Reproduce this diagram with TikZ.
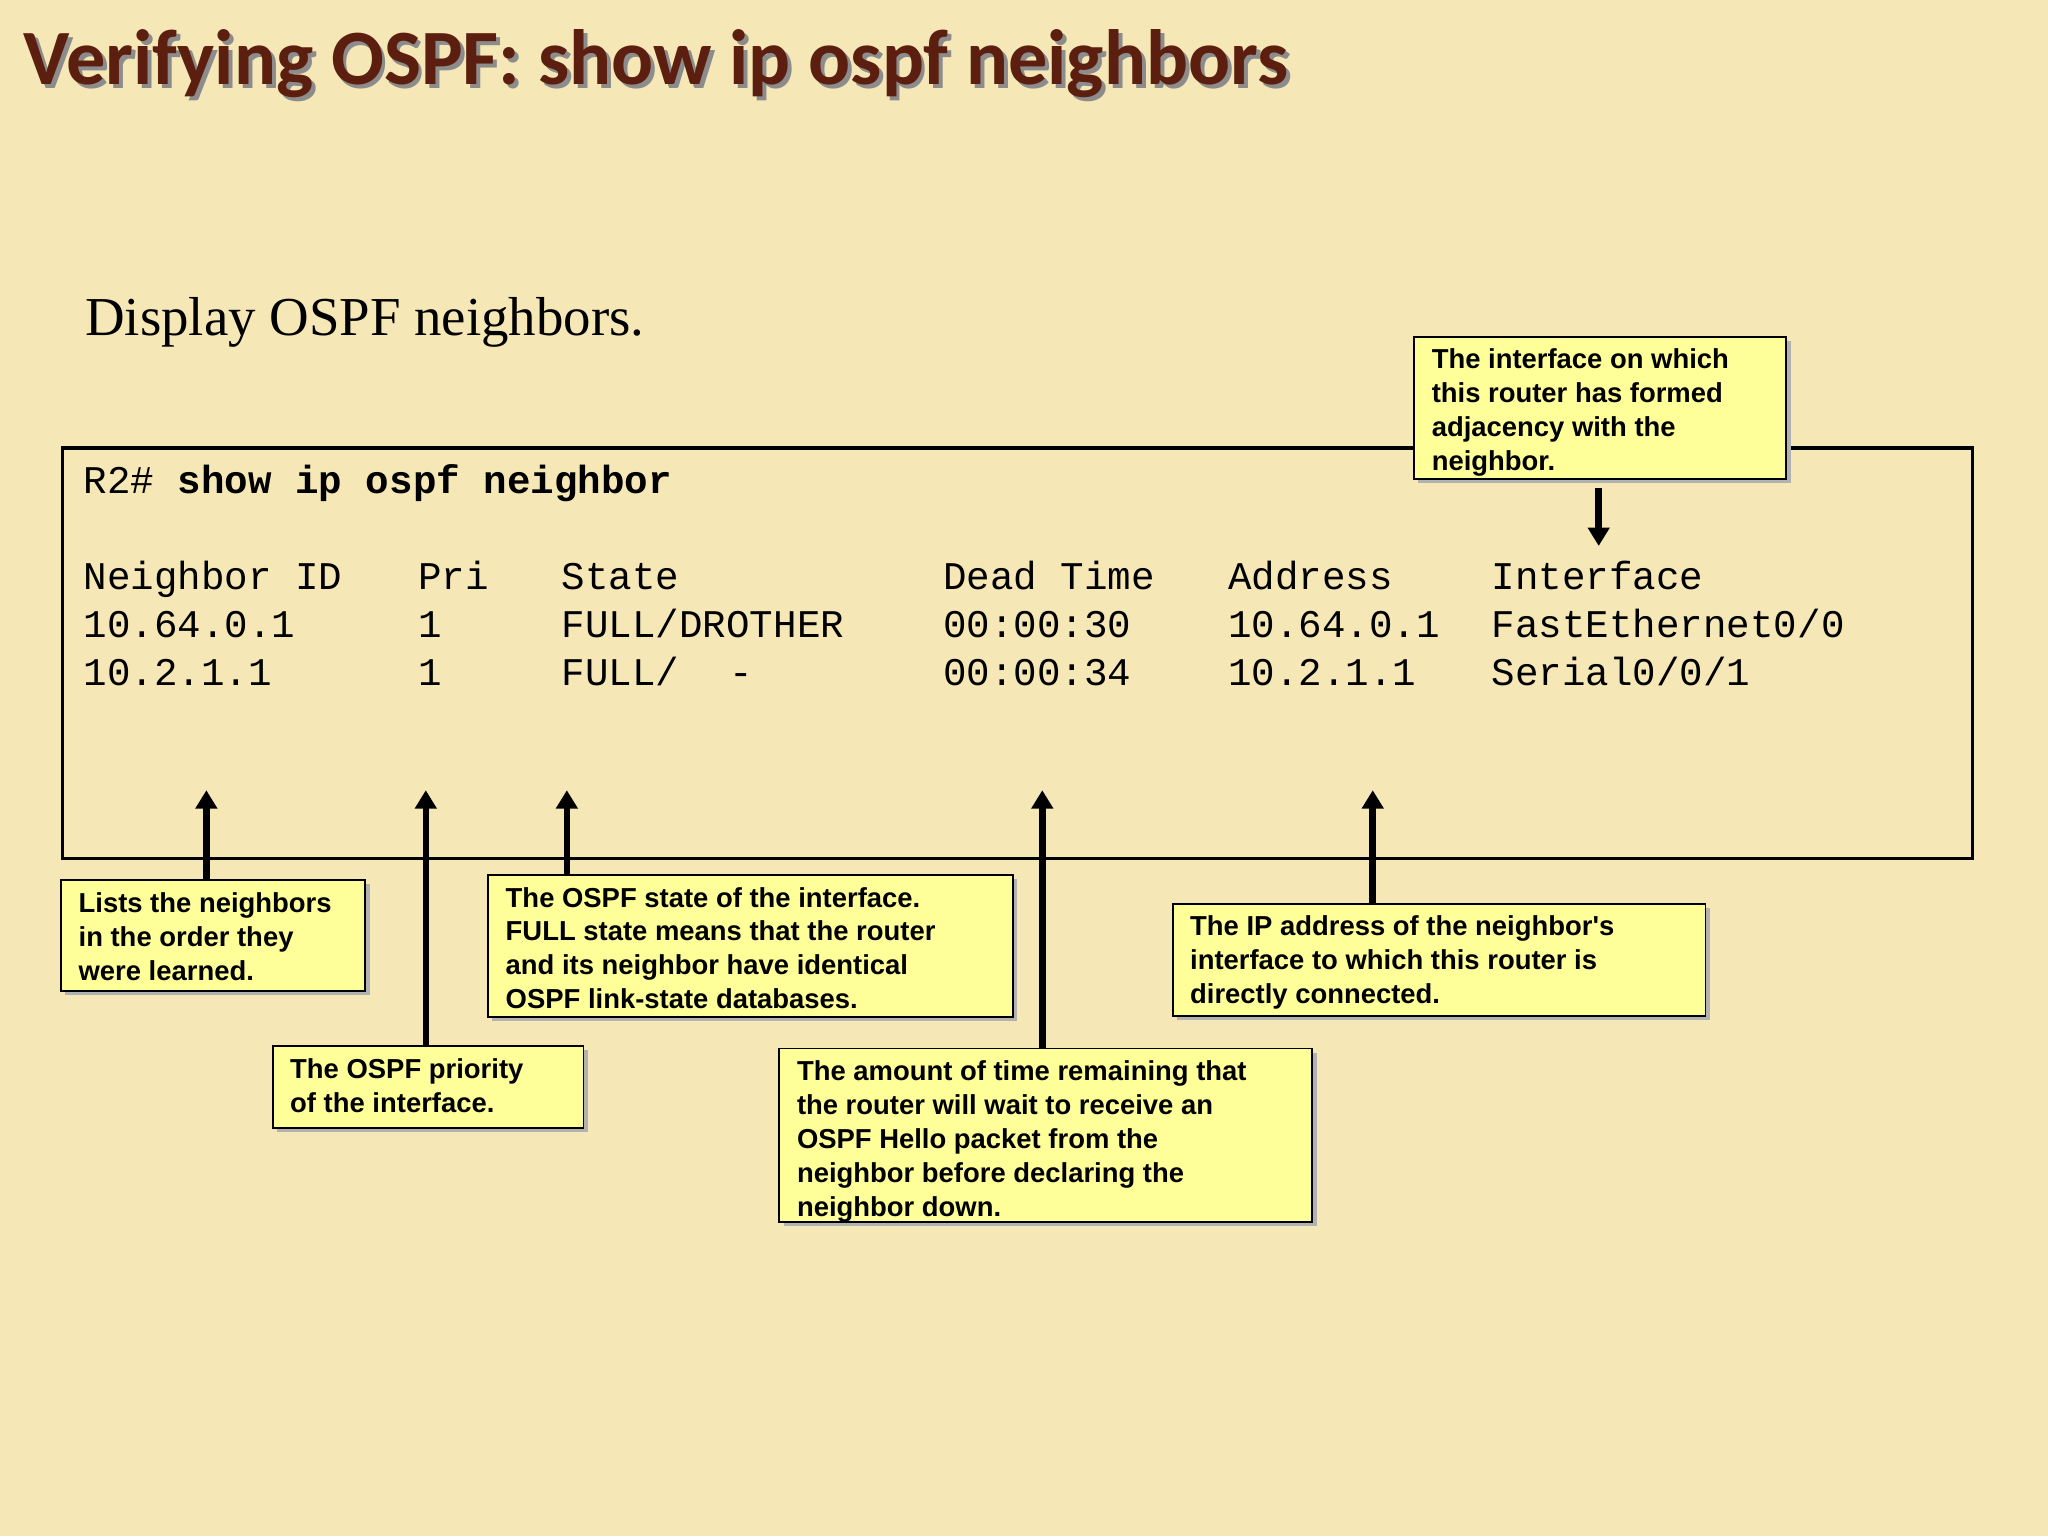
\documentclass[tikz,border=0pt]{standalone}
\usepackage{fontspec}
\setmainfont{Liberation Serif}
\newfontfamily\titlefont{Carlito}
\newfontfamily\monof{Liberation Mono}
\newfontfamily\callf{Liberation Sans}
\usetikzlibrary{arrows.meta,calc}
\definecolor{bg}{HTML}{F5E8B6}
\definecolor{titlec}{HTML}{5C1F0F}
\definecolor{callc}{HTML}{FFFF99}
\tikzset{
  callbox/.style={draw=black, line width=1.5pt, fill=callc, inner sep=0pt, anchor=north west},
  ctext/.style={anchor=north west, inner sep=0pt, align=left, font=\callf\bfseries\fontsize{21}{26}\selectfont},
  mono/.style={anchor=base west, inner sep=0pt, font=\monof\fontsize{30}{30}\selectfont},
  arr/.style={line width=5pt, -{Triangle[width=16pt,length=14pt]}},
}
\begin{document}
\begin{tikzpicture}[x=1pt,y=-1pt]
\fill[bg] (0,0) rectangle (1568,1176);
\useasboundingbox (0,0) rectangle (1568,1176);
% title
\node[anchor=base west, inner sep=0pt, text=black!45, font=\titlefont\bfseries\fontsize{60}{60}\selectfont] at (21,68) {Verifying OSPF: show ip ospf neighbors};
\node (title) [anchor=base west, inner sep=0pt, text=titlec, font=\titlefont\bfseries\fontsize{60}{60}\selectfont] at (18,65) {Verifying OSPF: show ip ospf neighbors};
\node (sub) [anchor=base west, inner sep=0pt, font=\fontsize{42}{42}\selectfont] at (65,257) {Display OSPF neighbors.};
% terminal
\draw[line width=2.5pt] (48,343) rectangle (1510,657);
\node (cmd) [mono] at (64,378) {R2\# \textbf{show ip ospf neighbor}};
\node[mono] at (64,451) {Neighbor ID}; \node[mono] at (320,451) {Pri};
\node[mono] at (430,451) {State}; \node[mono] at (722,451) {Dead Time};
\node[mono] at (940,451) {Address}; \node[mono] at (1142,451) {Interface};
\node[mono] at (64,488) {10.64.0.1}; \node[mono] at (320,488) {1};
\node[mono] at (430,488) {FULL/DROTHER}; \node[mono] at (722,488) {00:00:30};
\node[mono] at (940,488) {10.64.0.1}; \node[mono] at (1142,488) {FastEthernet0/0};
\node[mono] at (64,525) {10.2.1.1}; \node[mono] at (320,525) {1};
\node[mono] at (430,525) {FULL/}; \node[mono] at (558,525) {-};
\node[mono] at (722,525) {00:00:34};
\node[mono] at (940,525) {10.2.1.1}; \node[mono] at (1142,525) {Serial0/0/1};
% callouts
\foreach \x/\y/\w/\h in {46/673/233/85, 208/800/238/63, 373/669/402/109, 596/802/408/133, 897/691/408/86, 1082/257/285/109}
  \fill[black!30] (\x+4,\y+4) rectangle ++(\w,\h);
\node (c1) [callbox, minimum width=233pt, minimum height=85pt] at (46,673) {};
\node (c2) [callbox, minimum width=238pt, minimum height=63pt] at (208,800) {};
\node (c3) [callbox, minimum width=402pt, minimum height=109pt] at (373,669) {};
\node (c4) [callbox, minimum width=408pt, minimum height=133pt] at (596,802) {};
\node (c5) [callbox, minimum width=408pt, minimum height=86pt] at (897,691) {};
\node (c6) [callbox, minimum width=285pt, minimum height=109pt] at (1082,257) {};
\node[ctext] at ($(c1.north west)+(14,10)$) {Lists the neighbors\\in the order they\\were learned.};
\node[ctext] at ($(c2.north west)+(14,10)$) {The OSPF priority\\of the interface.};
\node[ctext] at ($(c3.north west)+(14,10)$) {The OSPF state of the interface.\\FULL state means that the router\\and its neighbor have identical\\OSPF link-state databases.};
\node[ctext] at ($(c4.north west)+(14,10)$) {The amount of time remaining that\\the router will wait to receive an\\OSPF Hello packet from the\\neighbor before declaring the\\neighbor down.};
\node[ctext] at ($(c5.north west)+(14,10)$) {The IP address of the neighbor's\\interface to which this router is\\directly connected.};
\node[ctext] at ($(c6.north west)+(14,10)$) {The interface on which\\this router has formed\\adjacency with the\\neighbor.};
% arrows
\coordinate (t1) at (158,605); \coordinate (t2) at (326,605);
\coordinate (t3) at (434,605); \coordinate (t4) at (798,605);
\coordinate (t5) at (1051,605); \coordinate (t6) at (1224,418);
\draw[arr] (c1.north -| t1) -- (t1);
\draw[arr] (c2.north -| t2) -- (t2);
\draw[arr] (c3.north -| t3) -- (t3);
\draw[arr] (c4.north -| t4) -- (t4);
\draw[arr] (c5.north -| t5) -- (t5);
\draw[arr] ($(c6.south -| t6)+(0,6)$) -- (t6);
\end{tikzpicture}
\end{document}
